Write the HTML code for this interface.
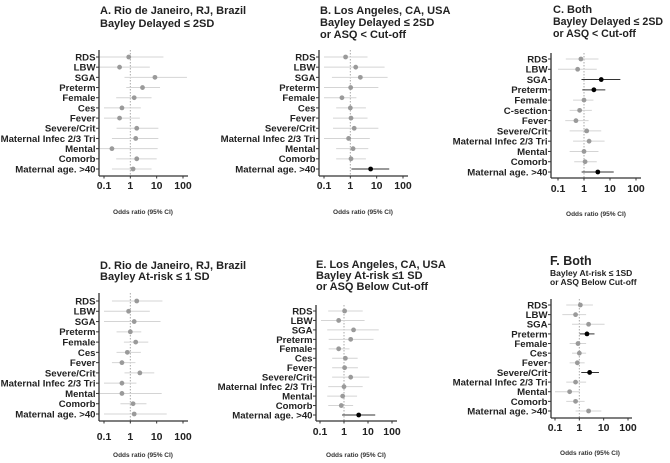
<!DOCTYPE html>
<html><head><meta charset="utf-8">
<style>
html,body{margin:0;padding:0;background:#fff;}
svg{display:block;font-family:"Liberation Sans",Arial,sans-serif;}
.lbl{font-size:9.6px;font-weight:bold;fill:#222;}
.tk{font-size:10.5px;font-weight:bold;fill:#222;}
.ttl{font-weight:bold;fill:#222;}
.xl{font-size:6.5px;font-weight:bold;fill:#333;}
</style></head>
<body>
<svg id="fig" width="670" height="463" viewBox="0 0 670 463"></svg>
<script>
// ----- data -----
const labelsStd = ["RDS","LBW","SGA","Preterm","Female","Ces","Fever","Severe/Crit","Maternal Infec 2/3 Tri","Mental","Comorb","Maternal age. >40"];
const labelsC = ["RDS","LBW","SGA","Preterm","Female","C-section","Fever","Severe/Crit","Maternal Infec 2/3 Tri","Mental","Comorb","Maternal age. >40"];
const tickValues = [0.1,1,10,100];
const tickLabels = ["0.1","1","10","100"];

const orA = [0.87,0.39,8.6,2.9,1.4,0.48,0.39,1.75,1.6,0.2,1.75,1.27];
const loA = [0.066,0.057,0.6,0.7,0.29,0.1,0.1,0.3,0.2,0.066,0.29,0.2];
const hiA = [18,5.5,141,13.4,6.4,2.5,2.3,11.6,11.6,10.9,10,6.4];
const sigA = [0,0,0,0,0,0,0,0,0,0,0,0];

const orB = [0.66,1.6,2.4,1.03,0.48,1.0,1.06,1.4,0.86,1.27,1.06,5.9];
const loB = [0.1,0.1,0.2,0.1,0.1,0.29,0.22,0.22,0.1,0.29,0.29,1.1];
const hiB = [4.5,20,26,11.6,1.7,3.9,4.5,11.6,5.5,4.8,3.9,30];
const sigB = [0,0,0,0,0,0,0,0,0,0,0,1];

const orC = [0.76,0.57,4.6,2.4,1.0,0.68,0.49,1.27,1.57,1.0,1.1,3.4];
const loC = [0.2,0.1,0.8,0.86,0.38,0.28,0.19,0.28,0.38,0.28,0.42,0.81];
const hiC = [3.6,3.1,25,6.6,2.3,2.0,1.5,4.6,6.2,3.6,3.1,13.9];
const sigC = [0,0,1,1,0,0,0,0,0,0,0,1];

const orD = [1.75,0.86,1.4,1.0,1.6,0.77,0.48,2.3,0.48,0.48,1.27,1.4];
const loD = [0.2,0.1,0.1,0.3,0.57,0.3,0.2,0.6,0.1,0.066,0.42,0.1];
const hiD = [16.5,5.5,14,2.6,4.8,2.5,1.56,8.1,1.7,15.5,4.1,24];
const sigD = [0,0,0,0,0,0,0,0,0,0,0,0];

const orE = [1.06,0.6,2.5,1.9,0.6,1.14,1.06,1.9,1.0,0.88,0.77,4.1];
const loE = [0.22,0.11,0.2,0.23,0.23,0.32,0.32,0.32,0.22,0.2,0.22,0.83];
const hiE = [6,7.2,28,17,1.7,3.7,3.8,11.3,6,3.5,2.4,20];
const sigE = [0,0,0,0,0,0,0,0,0,0,0,1];

const orF = [1.1,0.7,2.4,2.06,0.88,1.0,0.83,2.65,0.7,0.4,0.7,2.4];
const loF = [0.29,0.2,0.5,1.03,0.4,0.5,0.4,1.2,0.29,0.1,0.29,0.7];
const hiF = [3.6,1.9,10.9,4.2,1.9,1.9,1.65,6.4,1.9,1.03,1.65,8];
const sigF = [0,0,0,1,0,0,0,1,0,0,0,0];

// ----- layout (geometry only) -----
const panels = [
 {id:"a",labels:labelsStd,or:orA,lo:loA,hi:hiA,sig:sigA,ax:99,axEnd:188,x01:104,x100:183,yTop:50,yBot:176,r0:57,r1:169,tickY:185,xlY:212,xlX:143,
  title:[["A. Rio de Janeiro,  RJ,  Brazil",100,14,11],["Bayley Delayed ≤ 2SD",100,27,11]]},
 {id:"b",labels:labelsStd,or:orB,lo:loB,hi:hiB,sig:sigB,ax:319,axEnd:408,x01:324,x100:403,yTop:50,yBot:176,r0:57,r1:169,tickY:185,xlY:212,xlX:363,
  title:[["B. Los Angeles,  CA,  USA",320,14,11],["Bayley Delayed ≤ 2SD",320,26,11],["or ASQ < Cut-off",320,38,11]]},
 {id:"c",labels:labelsC,or:orC,lo:loC,hi:hiC,sig:sigC,ax:551,axEnd:641,x01:558,x100:636,yTop:53,yBot:178,r0:59,r1:172,tickY:188,xlY:214,xlX:596,
  title:[["C. Both",553,13,11],["Bayley Delayed ≤ 2SD",553,25,10.6],["or ASQ < Cut-off",553,37,10.6]]},
 {id:"d",labels:labelsStd,or:orD,lo:loD,hi:hiD,sig:sigD,ax:99,axEnd:188,x01:104,x100:183,yTop:293,yBot:421,r0:301,r1:414,tickY:436,xlY:455,xlX:143,
  title:[["D. Rio de Janeiro, RJ,  Brazil",100,269,11],["Bayley At-risk ≤ 1 SD",100,280,11]]},
 {id:"e",labels:labelsStd,or:orE,lo:loE,hi:hiE,sig:sigE,ax:316,axEnd:397,x01:320,x100:392,yTop:305,yBot:421,r0:311,r1:415,tickY:431,xlY:455,xlX:356,
  title:[["E. Los  Angeles,  CA,  USA",316,268,11],["Bayley At-risk  ≤1 SD",316,279,11],["or ASQ Below Cut-off",316,290,11]]},
 {id:"f",labels:labelsStd,or:orF,lo:loF,hi:hiF,sig:sigF,ax:551,axEnd:632,x01:555,x100:628,yTop:299,yBot:418,r0:305,r1:411,tickY:427,xlY:453,xlX:590,
  title:[["F. Both",550,265,12.5],["Bayley At-risk ≤ 1SD",550,276,8.5],["or ASQ Below Cut-off",550,285,8.5]]}
];

const NS="http://www.w3.org/2000/svg";
const svg=document.getElementById("fig");
function mk(tag,attrs,parent){const e=document.createElementNS(NS,tag);for(const k in attrs)e.setAttribute(k,attrs[k]);(parent||svg).appendChild(e);return e;}

panels.forEach(p=>{
  const g=mk("g",{});
  
  
  const xs=v=>p.x01+(Math.log10(v)+1)/3*(p.x100-p.x01);
  const ys=i=>p.r0+i*(p.r1-p.r0)/(p.labels.length-1);
  p.title.forEach((t,k)=>{
    const e=mk("text",{x:t[1],y:t[2],class:"ttl","font-size":t[3]},g);
    
    
    e.textContent=t[0];
  });
  const rl=mk("line",{x1:xs(1),x2:xs(1),y1:p.yTop,y2:p.yBot,stroke:"#aaa","stroke-width":1,"stroke-dasharray":"1.5,1.5"},g);
  
  
  p.labels.forEach((lab,i)=>{
    const y=ys(i);
    const col=p.sig[i]?"#333":"#d4d4d4";
    const ci=mk("line",{x1:xs(p.lo[i]),x2:xs(p.hi[i]),y1:y,y2:y,stroke:col,"stroke-width":1},g);
    
    
    const pt=mk("circle",{cx:xs(p.or[i]),cy:y,r:2.4,fill:p.sig[i]?"#000":"#9a9a9a"},g);
    
    
    mk("line",{x1:p.ax-3,x2:p.ax,y1:y,y2:y,stroke:"#333","stroke-width":1},g);
    const t=mk("text",{x:p.ax-3.5,y:y+3.4,class:"lbl","text-anchor":"end"},g);
    
    
    t.textContent=lab;
  });
  const ya=mk("line",{x1:p.ax,x2:p.ax,y1:p.yTop,y2:p.yBot,stroke:"#333","stroke-width":1.3},g);
  
  
  const xa=mk("line",{x1:p.ax,x2:p.axEnd,y1:p.yBot,y2:p.yBot,stroke:"#333","stroke-width":1.3},g);
  
  
  tickValues.forEach((v,k)=>{
    mk("line",{x1:xs(v),x2:xs(v),y1:p.yBot,y2:p.yBot+2.5,stroke:"#333","stroke-width":1},g);
    const t=mk("text",{x:xs(v),y:p.tickY+4,class:"tk","text-anchor":"middle"},g);
    
    
    t.textContent=tickLabels[k];
  });
  const xl=mk("text",{x:p.xlX,y:p.xlY+2,class:"xl","text-anchor":"middle"},g);
  
  
  xl.textContent="Odds ratio (95% CI)";
});
</script>
</body></html>
